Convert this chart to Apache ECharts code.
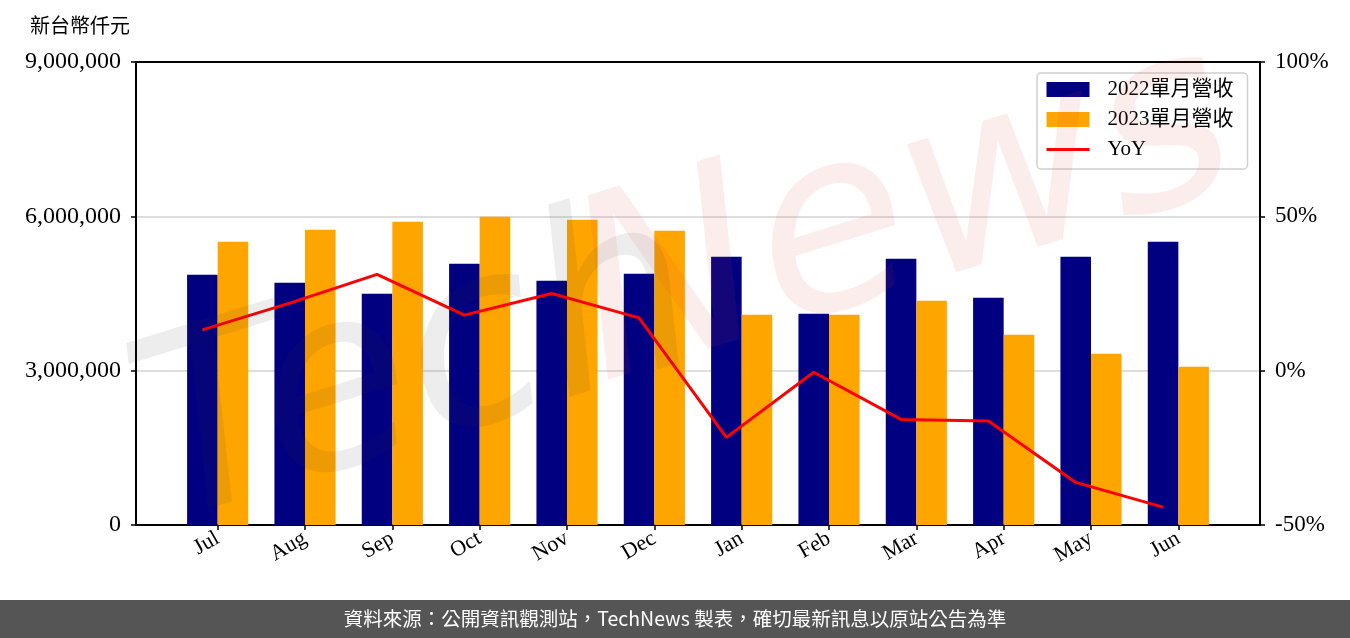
<!DOCTYPE html>
<html>
<head>
<meta charset="utf-8">
<script src="https://cdn.jsdelivr.net/npm/echarts@6/dist/echarts.min.js"></script>
<style>html,body{margin:0;padding:0;background:#fff}#c{width:1350px;height:638px}</style>
</head>
<body>
<div id="c"></div>
<script>
const months = ['Jul','Aug','Sep','Oct','Nov','Dec','Jan','Feb','Mar','Apr','May','Jun'];
const rev2022 = [4864000,4708000,4494000,5078000,4747000,4883000,5214000,4105000,5175000,4416000,5214000,5506000];
const rev2023 = [5506000,5739000,5895000,5992000,5934000,5720000,4086000,4086000,4358000,3696000,3327000,3074000];
const yoy = [13.2,21.9,31.2,18.0,25.0,17.1,-21.6,-0.5,-15.8,-16.3,-36.2,-44.2];
const leftTicks = [0,3000000,6000000,9000000];
const rightTicks = [-50,0,50,100];

const serif = '"Liberation Serif","Noto Sans CJK TC",serif';
const chart = echarts.init(document.getElementById('c'));
const plotL = 136, plotR = 1260, plotT = 62, plotB = 525;
const unit = (plotR - plotL) / 12.87;
const firstTick = plotL + 0.935 * unit;
const barW = 0.35 * unit;
const gridBars = {left: firstTick - unit/2, width: unit*12, top: plotT, bottom: 638-plotB};
const gridLine = {left: firstTick - unit/2 - 0.175*unit, width: unit*12, top: plotT, bottom: 638-plotB};
const frameLine = {show:true, onZero:false, lineStyle:{color:'#000', width:2}};

chart.setOption({
  animation: false,
  grid: [
    {left: plotL, right: 1350-plotR, top: plotT, bottom: 638-plotB},
    gridBars, gridLine
  ],
  xAxis: [
    {gridIndex:0, type:'value', min:0, max:1, position:'bottom', axisLine:frameLine, axisTick:{show:false}, axisLabel:{show:false}, splitLine:{show:false}},
    {gridIndex:0, type:'value', min:0, max:1, position:'top', axisLine:frameLine, axisTick:{show:false}, axisLabel:{show:false}, splitLine:{show:false}},
    {gridIndex:1, type:'category', data:months, axisLine:{show:false, onZero:false}, axisTick:{show:true, alignWithLabel:true, length:5, lineStyle:{color:'#000', width:1.5}},
      axisLabel:{rotate:30, margin:12, fontFamily:serif, fontSize:22, color:'#000', interval:0}, splitLine:{show:false}},
    {gridIndex:2, type:'category', data:months, show:false, axisLine:{show:false, onZero:false}}
  ],
  yAxis: [
    {gridIndex:0, type:'value', min:0, max:9000000, interval:3000000, position:'left',
      axisLine:frameLine, axisTick:{show:true, length:5, lineStyle:{color:'#000', width:1.5}},
      axisLabel:{margin:15, fontFamily:serif, fontSize:24, color:'#000', formatter:v=>v.toLocaleString('en-US')},
      splitLine:{show:true, lineStyle:{color:'#d3d3d3', width:1.5}}},
    {gridIndex:0, type:'value', min:-50, max:100, interval:50, position:'right',
      axisLine:frameLine, axisTick:{show:true, length:5, lineStyle:{color:'#000', width:1.5}},
      axisLabel:{margin:15, fontFamily:serif, fontSize:23, color:'#000', formatter:v=>v+'%'}, splitLine:{show:false}},
    {gridIndex:1, type:'value', min:0, max:9000000, show:false},
    {gridIndex:2, type:'value', min:-50, max:100, show:false}
  ],
  legend: {
    left: 1037, top: 73, orient:'vertical',
    data: [
      {name:'2022單月營收', icon:'rect'},
      {name:'2023單月營收', icon:'rect'},
      {name:'YoY', itemStyle:{opacity:0}, lineStyle:{width:3, color:'#FF0000'}}
    ],
    itemWidth: 43, itemHeight: 15, itemGap: 9,
    padding: [6, 14, 9, 8],
    backgroundColor:'rgba(255,255,255,0.85)', borderColor:'#d0d0d0', borderWidth:1.5, borderRadius:4,
    textStyle:{fontFamily:serif, fontSize:21, color:'#000', padding:[0,0,0,13], lineHeight:21}
  },
  series: [
    {name:'2022單月營收', type:'bar', xAxisIndex:2, yAxisIndex:2, data:rev2022, barWidth:barW, barGap:'0%', itemStyle:{color:'#000080'}},
    {name:'2023單月營收', type:'bar', xAxisIndex:2, yAxisIndex:2, data:rev2023, barWidth:barW, barGap:'0%', itemStyle:{color:'#FFA500'}},
    {name:'YoY', type:'line', xAxisIndex:3, yAxisIndex:3, data:yoy, symbol:'none', lineStyle:{color:'#FF0000', width:3}, itemStyle:{color:'#FF0000'}, z:5}
  ],
  graphic: [
    {type:'text', left:30, top:15, style:{text:'新台幣仟元', fontFamily:'"Noto Sans CJK TC"', fontSize:20, fill:'#000'}},
    {type:'text', x:420, y:375, rotation:0.3, z:100, silent:true,
      style:{text:'Tech', fontFamily:'"DejaVu Sans"', fontStyle:'italic', fontSize:250, fill:'rgba(60,60,60,0.09)', align:'center', verticalAlign:'middle'}},
    {type:'text', x:905, y:220, rotation:0.3, z:100, silent:true,
      style:{text:'News', fontFamily:'"DejaVu Sans"', fontStyle:'italic', fontSize:250, fill:'rgba(220,60,60,0.09)', align:'center', verticalAlign:'middle'}},
    {type:'rect', left:0, top:600, shape:{width:1350, height:38}, style:{fill:'#555555'}},
    {type:'text', x:675, y:619, style:{text:'資料來源：公開資訊觀測站，TechNews 製表，確切最新訊息以原站公告為準', fontFamily:'"Noto Sans CJK TC"', fontSize:19.5, fill:'#fff', align:'center', verticalAlign:'middle'}}
  ]
});
</script>
</body>
</html>
